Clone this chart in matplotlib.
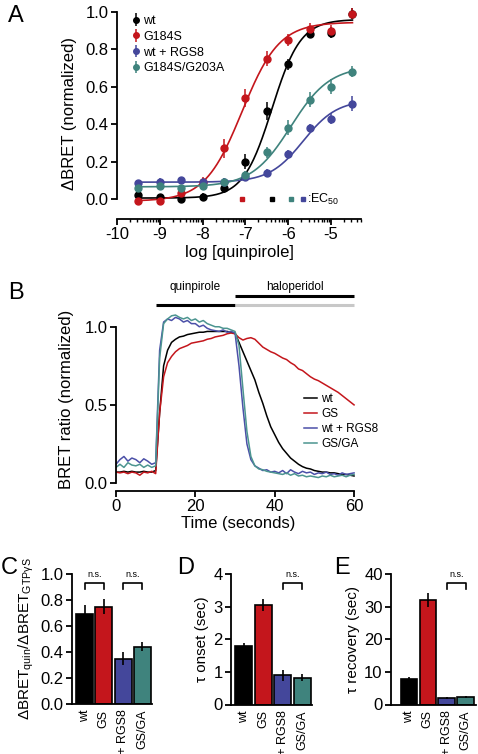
#!/usr/bin/env python3
"""Gi/o BRET figure: dose-response (A), kinetics (B) and summary bars (C-E)."""
import matplotlib
matplotlib.use("Agg")
import matplotlib.pyplot as plt
from matplotlib.ticker import FixedLocator
import numpy as np

plt.rcParams["font.family"] = ["Liberation Sans", "DejaVu Sans"]
plt.rcParams["mathtext.fontset"] = "custom"
plt.rcParams["mathtext.rm"] = "Liberation Sans"
plt.rcParams["mathtext.it"] = "Liberation Sans:italic"
plt.rcParams["mathtext.default"] = "regular"

BLACK = "#000000"
RED = "#c4161c"
BLUE = "#44479b"
TEAL = "#3f837d"
BLUE_LN = "#4b50a8"
TEAL_LN = "#4c9590"

# ---- panel A: concentration-response ----
log_conc = [-9.5, -9, -8.5, -8, -7.5, -7, -6.5, -6, -5.5, -5, -4.5]
a_names = ["wt", "G184S", "wt + RGS8", "G184S/G203A"]
a_wt = [0.02, 0.01, 0.00, 0.01, 0.06, 0.20, 0.47, 0.72, 0.88, 0.89, 0.99]
a_wt_err = [0.01, 0.01, 0.01, 0.02, 0.03, 0.04, 0.05, 0.03, 0.02, 0.03, 0.03]
a_gs = [-0.01, -0.01, 0.03, 0.09, 0.27, 0.54, 0.75, 0.85, 0.91, 0.90, 0.99]
a_gs_err = [0.01, 0.01, 0.02, 0.03, 0.05, 0.05, 0.04, 0.03, 0.03, 0.03, 0.03]
a_rgs = [0.085, 0.09, 0.10, 0.09, 0.09, 0.12, 0.14, 0.24, 0.38, 0.43, 0.51]
a_rgs_err = [0.01, 0.02, 0.02, 0.02, 0.02, 0.02, 0.02, 0.02, 0.02, 0.03, 0.04]
a_gsga = [0.06, 0.07, 0.06, 0.07, 0.09, 0.13, 0.25, 0.38, 0.53, 0.60, 0.68]
a_gsga_err = [0.01, 0.01, 0.01, 0.02, 0.02, 0.02, 0.03, 0.04, 0.04, 0.04, 0.03]
# Hill fits: bottom, top, logEC50, slope
fit_bottom = [0.005, -0.012, 0.09, 0.065]
fit_top = [0.96, 0.945, 0.53, 0.71]
fit_logec50 = [-6.38, -7.08, -5.65, -5.94]
fit_slope = [1.3, 1.0, 1.1, 0.95]

# ---- panel B: BRET time course (1 s steps) ----
t_sec = np.arange(0, 61)
b_wt = [0.07, 0.07, 0.075, 0.07, 0.075, 0.07, 0.07, 0.075, 0.07, 0.07, 0.08,
        0.45, 0.75, 0.85, 0.90, 0.92, 0.935, 0.94, 0.95, 0.955, 0.96,
        0.965, 0.965, 0.97, 0.97, 0.97, 0.97, 0.97, 0.97, 0.965, 0.96,
        0.90, 0.84, 0.78, 0.72, 0.66, 0.58, 0.51, 0.43, 0.36, 0.31,
        0.26, 0.22, 0.19, 0.16, 0.14, 0.12, 0.105, 0.095, 0.09, 0.08,
        0.075, 0.07, 0.07, 0.065, 0.065, 0.06, 0.055, 0.055, 0.05, 0.045]
b_gs = [0.07, 0.065, 0.07, 0.06, 0.07, 0.065, 0.05, 0.07, 0.065, 0.075, 0.06,
        0.45, 0.68, 0.77, 0.81, 0.84, 0.86, 0.87, 0.88, 0.895, 0.90,
        0.905, 0.91, 0.92, 0.925, 0.935, 0.94, 0.945, 0.955, 0.96, 0.955,
        0.93, 0.915, 0.925, 0.93, 0.92, 0.895, 0.87, 0.855, 0.84, 0.83,
        0.815, 0.80, 0.79, 0.77, 0.755, 0.73, 0.72, 0.70, 0.68, 0.665,
        0.655, 0.64, 0.625, 0.61, 0.595, 0.58, 0.56, 0.54, 0.52, 0.50]
b_rgs = [0.12, 0.15, 0.17, 0.14, 0.16, 0.15, 0.13, 0.155, 0.14, 0.12, 0.13,
         0.85, 1.03, 1.05, 1.04, 1.06, 1.05, 1.03, 1.04, 1.02, 1.02,
         1.00, 1.01, 0.99, 0.98, 0.975, 0.97, 0.98, 0.965, 0.97, 0.96,
         0.75, 0.48, 0.25, 0.15, 0.11, 0.095, 0.08, 0.085, 0.07, 0.075,
         0.065, 0.08, 0.06, 0.085, 0.07, 0.06, 0.075, 0.065, 0.07, 0.055,
         0.065, 0.06, 0.07, 0.055, 0.06, 0.05, 0.065, 0.055, 0.06, 0.065]
b_gsga = [0.10, 0.12, 0.10, 0.13, 0.115, 0.11, 0.12, 0.10, 0.115, 0.10, 0.11,
          0.80, 1.02, 1.05, 1.07, 1.075, 1.06, 1.05, 1.06, 1.04, 1.05,
          1.03, 1.04, 1.02, 1.01, 1.00, 1.00, 0.99, 0.99, 0.98, 0.97,
          0.88, 0.60, 0.33, 0.17, 0.11, 0.09, 0.085, 0.075, 0.07, 0.065,
          0.06, 0.055, 0.065, 0.05, 0.06, 0.045, 0.05, 0.04, 0.045, 0.04,
          0.035, 0.045, 0.04, 0.05, 0.04, 0.045, 0.05, 0.04, 0.05, 0.055]
b_names = ["wt", "GS", "wt + RGS8", "GS/GA"]

# ---- panels C-E: summary bars ----
bar_labels = ["wt", "GS", "wt + RGS8", "GS/GA"]
c_vals = [0.69, 0.75, 0.35, 0.44]
c_err = [0.07, 0.06, 0.05, 0.035]
d_vals = [1.78, 3.05, 0.90, 0.82]
d_err = [0.10, 0.18, 0.17, 0.10]
e_vals = [7.7, 32.0, 2.0, 2.2]
e_err = [0.8, 2.2, 0.4, 0.3]

W, H = 478, 754


def px_axes(fig, left, top, right, bottom):
    return fig.add_axes([left / W, 1 - bottom / H, (right - left) / W, (bottom - top) / H])


def style(ax):
    for s in ("top", "right"):
        ax.spines[s].set_visible(False)
    for s in ("left", "bottom"):
        ax.spines[s].set_linewidth(1.3)
    ax.tick_params(width=1.3, length=4, labelsize=12, pad=2)


fig = plt.figure(figsize=(W / 100, H / 100), dpi=100)

# ---------------- A ----------------
ax = px_axes(fig, 117, 8, 361, 219)
style(ax)
cols = [BLACK, RED, BLUE, TEAL]
series = [(a_wt, a_wt_err), (a_gs, a_gs_err), (a_rgs, a_rgs_err), (a_gsga, a_gsga_err)]
xx = np.linspace(-9.5, -4.5, 300)
for i, (vals, err) in enumerate(series):
    yy = fit_bottom[i] + (fit_top[i] - fit_bottom[i]) / (1 + 10 ** ((fit_logec50[i] - xx) * fit_slope[i]))
    ax.plot(xx, yy, color=cols[i], lw=1.2, zorder=2)
    ax.errorbar(log_conc, vals, yerr=err, fmt="o", color=cols[i], ms=5,
                elinewidth=1.1, capsize=0, label=a_names[i], zorder=3)
# EC50 markers
for i in [1, 0, 3, 2]:
    ax.plot(fit_logec50[i], 0.0, "s", color=cols[i], ms=3.5, zorder=3)
ax.text(-5.55, 0.0, ":EC$_{50}$", fontsize=9, va="center", ha="left")
ax.set_xlim(-10, -4.3)
ax.set_ylim(-0.107, 1.021)
ax.spines["left"].set_bounds(0, 1)
ax.set_yticks(np.arange(0, 1.01, 0.2))
ax.set_yticklabels([f"{v:.1f}" for v in np.arange(0, 1.01, 0.2)])
ax.set_xticks(range(-10, -4))
ax.set_xticklabels([str(v) for v in range(-10, -4)])
minor = [d + np.log10(k) for d in range(-10, -4) for k in range(2, 10)]
ax.xaxis.set_minor_locator(FixedLocator([m for m in minor if m <= -4.3]))
ax.tick_params(which="minor", length=2, width=1.0)
ax.set_xlabel("log [quinpirole]", fontsize=12, labelpad=2)
ax.set_ylabel("\u0394BRET (normalized)", fontsize=12, labelpad=6)
ax.legend(loc="upper left", bbox_to_anchor=(0.03, 0.99), frameon=False, fontsize=9,
          handletextpad=0.1, labelspacing=0.3, markerscale=0.8, handlelength=1.0,
          borderaxespad=0)
fig.text(8 / W, 1 - 16 / H, "A", fontsize=17, va="center", ha="left")

# ---------------- B ----------------
ax = px_axes(fig, 116, 308, 360, 491)
style(ax)
ax.plot(t_sec, b_wt, color=BLACK, lw=1.1, label=b_names[0])
ax.plot(t_sec, b_gs, color=RED, lw=1.1, label=b_names[1])
ax.plot(t_sec, b_rgs, color=BLUE_LN, lw=1.1, label=b_names[2])
ax.plot(t_sec, b_gsga, color=TEAL_LN, lw=1.1, label=b_names[3])
ax.set_xlim(0, 61.5)
ax.set_ylim(-0.051, 1.12)
ax.spines["left"].set_bounds(0, 1)
ax.spines["bottom"].set_bounds(0, 60)
ax.set_yticks([0, 0.5, 1.0])
ax.set_yticklabels(["0.0", "0.5", "1.0"])
ax.set_xticks([0, 20, 40, 60])
ax.set_xlabel("Time (seconds)", fontsize=12, labelpad=1)
ax.set_ylabel("BRET ratio (normalized)", fontsize=12, labelpad=8)
ax.legend(loc="upper left", bbox_to_anchor=(0.75, 0.56), frameon=False, fontsize=8.5,
          handlelength=1.1, handletextpad=0.4, labelspacing=0.25, borderaxespad=0)
# drug application bars
ax.plot([10, 30], [1.141, 1.141], color=BLACK, lw=2.2, clip_on=False, solid_capstyle="butt")
ax.plot([30, 60], [1.199, 1.199], color=BLACK, lw=2.2, clip_on=False, solid_capstyle="butt")
ax.plot([30, 60], [1.141, 1.141], color="#c8c8c8", lw=2.2, clip_on=False, solid_capstyle="butt")
ax.text(20, 1.215, "quinpirole", fontsize=8.5, ha="center", va="bottom")
ax.text(45, 1.215, "haloperidol", fontsize=8.5, ha="center", va="bottom")
fig.text(8 / W, 1 - 293 / H, "B", fontsize=17, va="center", ha="left")

# ---------------- C-E ----------------
bar_cols = [BLACK, RED, BLUE, TEAL]
pos = np.arange(4)


def bar_panel(ax, vals, err, ylim, ticks, ylabel, brackets, yfmt):
    style(ax)
    ax.bar(pos, vals, width=0.88, color=bar_cols, edgecolor=BLACK, linewidth=1.2, zorder=2)
    ax.errorbar(pos, vals, yerr=err, fmt="none", ecolor=BLACK, elinewidth=1.2, capsize=0, zorder=3)
    ax.set_ylim(*ylim)
    ax.set_yticks(ticks)
    ax.set_yticklabels([yfmt(v) for v in ticks])
    ax.set_xticks(pos)
    ax.set_xticklabels(bar_labels, rotation=90, fontsize=9, va="top")
    ax.tick_params(axis="x", length=0, pad=4)
    ax.set_ylabel(ylabel, fontsize=11, labelpad=3)
    span = ylim[1] - ylim[0]
    for a, b in brackets:
        top = ylim[0] + 0.93 * span
        leg = ylim[0] + 0.885 * span
        ax.plot([a, a, b, b], [leg, top, top, leg], color=BLACK, lw=1.2, clip_on=False)
        ax.text((a + b) / 2, top + 0.03 * span, "n.s.", fontsize=6.5, ha="center", va="bottom")


ax = px_axes(fig, 72, 574, 152, 704)
ax.set_xlim(-0.65, 3.5)
bar_panel(ax, c_vals, c_err, (0, 1.0), np.arange(0, 1.01, 0.2),
          "\u0394BRET$_{quin}$/\u0394BRET$_{GTP\u03b3S}$", [(0, 1), (2, 3)],
          lambda v: f"{v:.1f}")
fig.text(1 / W, 1 - 568 / H, "C", fontsize=17, va="center", ha="left")

ax = px_axes(fig, 231, 574, 312, 704.5)
ax.set_xlim(-0.65, 3.5)
bar_panel(ax, d_vals, d_err, (0, 4), [0, 1, 2, 3, 4], "\u03c4 onset (sec)", [(2, 3)],
          lambda v: f"{v:d}")
fig.text(177 / W, 1 - 568 / H, "D", fontsize=17, va="center", ha="left")

ax = px_axes(fig, 391, 574, 476, 704.5)
ax.set_xlim(-0.95, 3.55)
bar_panel(ax, e_vals, e_err, (0, 40), [0, 10, 20, 30, 40], "\u03c4 recovery (sec)", [(2, 3)],
          lambda v: f"{v:d}")
fig.text(334 / W, 1 - 568 / H, "E", fontsize=17, va="center", ha="left")

fig.savefig("out.png", dpi=100)
plt.close(fig)
print("Saved out.png")
